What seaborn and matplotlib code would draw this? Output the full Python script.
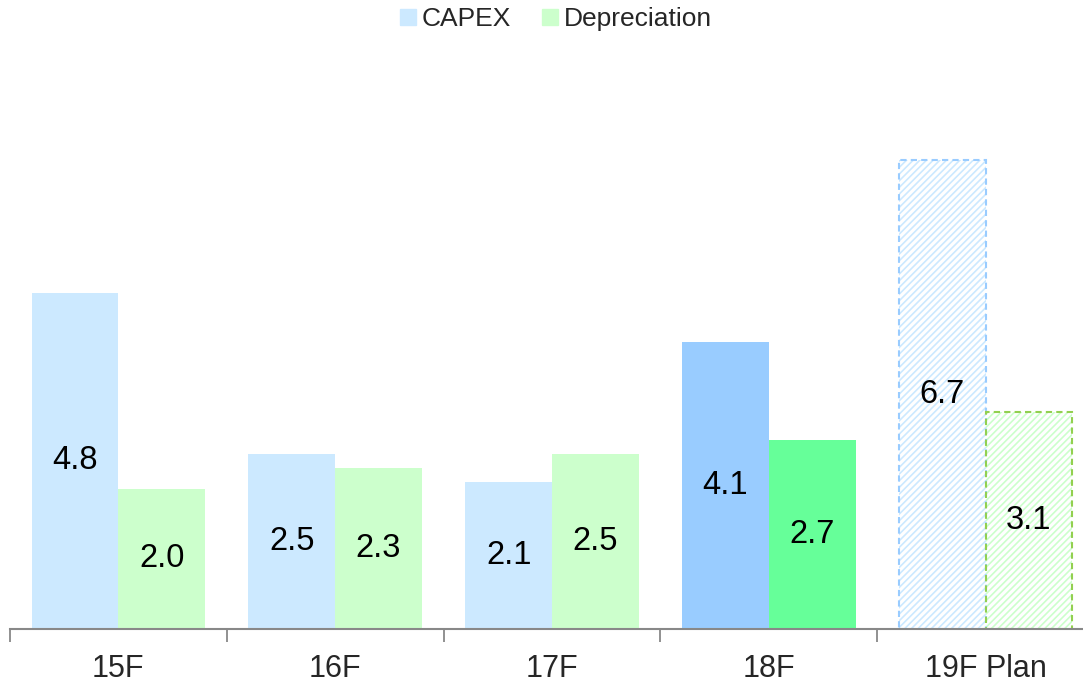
import pandas as pd
import matplotlib
matplotlib.use("Agg")
import matplotlib.pyplot as plt
import seaborn as sns

# Chart data
years = ["15F", "16F", "17F", "18F", "19F Plan"]
capex = [4.8, 2.5, 2.1, 4.1, 6.7]
depreciation = [2.0, 2.3, 2.5, 2.7, 3.1]

light_blue = "#CCE9FF"
light_green = "#CCFFCC"
mid_blue = "#99CCFF"
mid_green = "#66FF99"
dash_green = "#92D050"

df = pd.DataFrame({
    "year": years * 2,
    "series": ["CAPEX"] * len(years) + ["Depreciation"] * len(years),
    "value": capex + depreciation,
})

sns.set_style("white")
plt.rcParams["font.family"] = ["Liberation Sans", "DejaVu Sans"]
plt.rcParams["hatch.linewidth"] = 1.2

fig = plt.figure(figsize=(10.83, 6.82), dpi=100)
ax = fig.add_axes([0.0092, 0.0777, 1.001, 0.835])

sns.barplot(data=df, x="year", y="value", hue="series", order=years,
            hue_order=["CAPEX", "Depreciation"],
            palette=[light_blue, light_green], width=0.8, saturation=1,
            errorbar=None, ax=ax, linewidth=0, legend=False)

caps, deps = ax.containers[0], ax.containers[1]

# 18F actuals in stronger colours
caps[3].set_facecolor(mid_blue)
deps[3].set_facecolor(mid_green)

# 19F plan: light hatch inside, dashed outline on top
for bar, hatch_col, edge in [(caps[4], light_blue, mid_blue), (deps[4], light_green, dash_green)]:
    bar.set_facecolor("white")
    bar.set_edgecolor(hatch_col)
    bar.set_hatch("/////")
    bar.set_linewidth(0)
    outline = plt.Rectangle(bar.get_xy(), bar.get_width(), bar.get_height(),
                            fill=False, edgecolor=edge, linewidth=1.5,
                            linestyle=(0, (3, 2)), zorder=bar.get_zorder() + 0.1)
    ax.add_patch(outline)

for cont in ax.containers:
    ax.bar_label(cont, fmt="%.1f", label_type="center", fontsize=23.5, color="black")

ax.set_xlim(-0.5, len(years) - 0.5)
ax.set_ylim(0, 8.13)
ax.set_xlabel("")
ax.set_ylabel("")
ax.set_yticks([])

# group boundary ticks on bottom axis
ax.set_xticks([i - 0.5 for i in range(len(years) + 1)], minor=False)
ax.set_xticklabels([""] * (len(years) + 1))
ax.set_xticks(range(len(years)), minor=True)
ax.set_xticklabels(years, minor=True, fontsize=22)
ax.tick_params(axis="x", which="major", bottom=True, length=9, width=1.3,
               color="#888888", direction="out")
ax.tick_params(axis="x", which="minor", bottom=True, length=0, pad=18)

for side in ["top", "right", "left"]:
    ax.spines[side].set_visible(False)
ax.spines["bottom"].set_color("#888888")
ax.spines["bottom"].set_linewidth(1.5)
ax.spines["bottom"].set_zorder(5)

handles = [plt.Rectangle((0, 0), 1, 1, color=c) for c in [light_blue, light_green]]
fig.legend(handles, ["CAPEX", "Depreciation"], loc="upper center",
           bbox_to_anchor=(556 / 1083, 1.024), ncol=2, frameon=False, fontsize=19,
           handlelength=0.6, handleheight=0.6, handletextpad=0.2, columnspacing=1.2)

fig.savefig("out.png", dpi=100)
